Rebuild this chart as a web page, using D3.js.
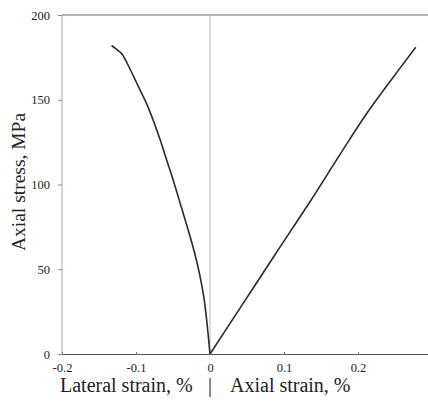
<!DOCTYPE html>
<html>
<head>
<meta charset="utf-8">
<script src="https://cdn.jsdelivr.net/npm/d3@7"></script>
<style>
  html, body { margin: 0; padding: 0; background: #fff; }
  svg { display: block; }
  text { font-family: "Liberation Serif", "DejaVu Serif", serif; fill: #222; }
</style>
</head>
<body>
<svg id="chart" width="428" height="402"></svg>
<script>
// Lateral strain (negative, %) vs axial stress (MPa)
const lateralStrain = [-0.133, -0.127, -0.119, -0.108, -0.097, -0.086, -0.076, -0.067, -0.059, -0.050, -0.039, -0.028, -0.021, -0.0145, -0.0085, -0.0045, 0];
const lateralStress = [182, 180, 177, 168, 158, 148, 137, 126, 115, 103, 87, 71, 60, 48, 34, 20, 0];

// Axial strain (%) vs axial stress (MPa)
const axialStrain = [0, 0.045, 0.090, 0.1368, 0.179, 0.212, 0.242, 0.278];
const axialStress = [0, 30, 60, 91, 120, 142, 160, 181];

const xTicks = [-0.2, -0.1, 0, 0.1, 0.2];
const xTickLabels = ["-0.2", "-0.1", "0", "0.1", "0.2"];
const yTicks = [0, 50, 100, 150, 200];

const svg = d3.select("#chart");
const plotLeft = 62, plotRight = 436, plotTop = 15, plotBottom = 354;

const x = d3.scaleLinear().domain([-0.2, 0.3054]).range([plotLeft, plotRight]);
const y = d3.scaleLinear().domain([0, 200]).range([plotBottom, plotTop]);

// Frame: left and top edges
const frame = svg.append("g").attr("stroke", "#666").attr("stroke-width", 1).attr("fill", "none");
frame.append("line").attr("x1", plotLeft).attr("x2", plotLeft).attr("y1", y(0)).attr("y2", y(200)).attr("stroke", "#aaa");
frame.append("line").attr("x1", plotLeft).attr("x2", 428).attr("y1", y(200)).attr("y2", y(200));

// Zero-strain divider
svg.append("line")
  .attr("x1", x(0)).attr("x2", x(0)).attr("y1", y(0)).attr("y2", y(200))
  .attr("stroke", "#b8b8b8").attr("stroke-width", 1);

// Bottom axis
const xAxis = d3.axisBottom(x).tickValues(xTicks).tickSize(0).tickPadding(9)
  .tickFormat((d, i) => xTickLabels[i]);
const gx = svg.append("g").attr("transform", `translate(0,${plotBottom})`).call(xAxis);
gx.select(".domain").attr("stroke", "#555").attr("d", `M${plotLeft},0.5H428`);
gx.selectAll("text").attr("font-size", 12.5).attr("font-family", "Liberation Serif, serif").attr("fill", "#333");
gx.selectAll(".tick").append("line").attr("y1", -2).attr("y2", 1).attr("stroke", "#777");

// Left axis
const yAxis = d3.axisLeft(y).tickValues(yTicks).tickSize(4).tickPadding(8);
const gy = svg.append("g").attr("transform", `translate(${plotLeft},0)`).call(yAxis);
gy.select(".domain").remove();
gy.selectAll(".tick line").attr("stroke", "#888");
gy.selectAll("text").attr("font-size", 12.5).attr("font-family", "Liberation Serif, serif").attr("fill", "#333");

// Curves
const lateral = lateralStrain.map((s, i) => [s, lateralStress[i]]);
const axial = axialStrain.map((s, i) => [s, axialStress[i]]);

svg.append("path").datum(lateral)
  .attr("d", d3.line().x(d => x(d[0])).y(d => y(d[1])).curve(d3.curveCatmullRom))
  .attr("fill", "none").attr("stroke", "#2a2a2a").attr("stroke-width", 1.6);
svg.append("path").datum(axial)
  .attr("d", d3.line().x(d => x(d[0])).y(d => y(d[1])).curve(d3.curveCatmullRom))
  .attr("fill", "none").attr("stroke", "#2a2a2a").attr("stroke-width", 1.6);

// Axis titles
svg.append("text")
  .attr("transform", `translate(25,${182}) rotate(-90)`)
  .attr("text-anchor", "middle").attr("font-size", 19.5)
  .text("Axial stress,  MPa");

svg.append("text").attr("x", 60).attr("y", 392)
  .attr("text-anchor", "start").attr("font-size", 20)
  .text("Lateral strain, %");
svg.append("text").attr("x", x(0)).attr("y", 392)
  .attr("text-anchor", "middle").attr("font-size", 20)
  .text("|");
svg.append("text").attr("x", 230).attr("y", 392)
  .attr("text-anchor", "start").attr("font-size", 20)
  .text("Axial strain, %");
</script>
</body>
</html>
